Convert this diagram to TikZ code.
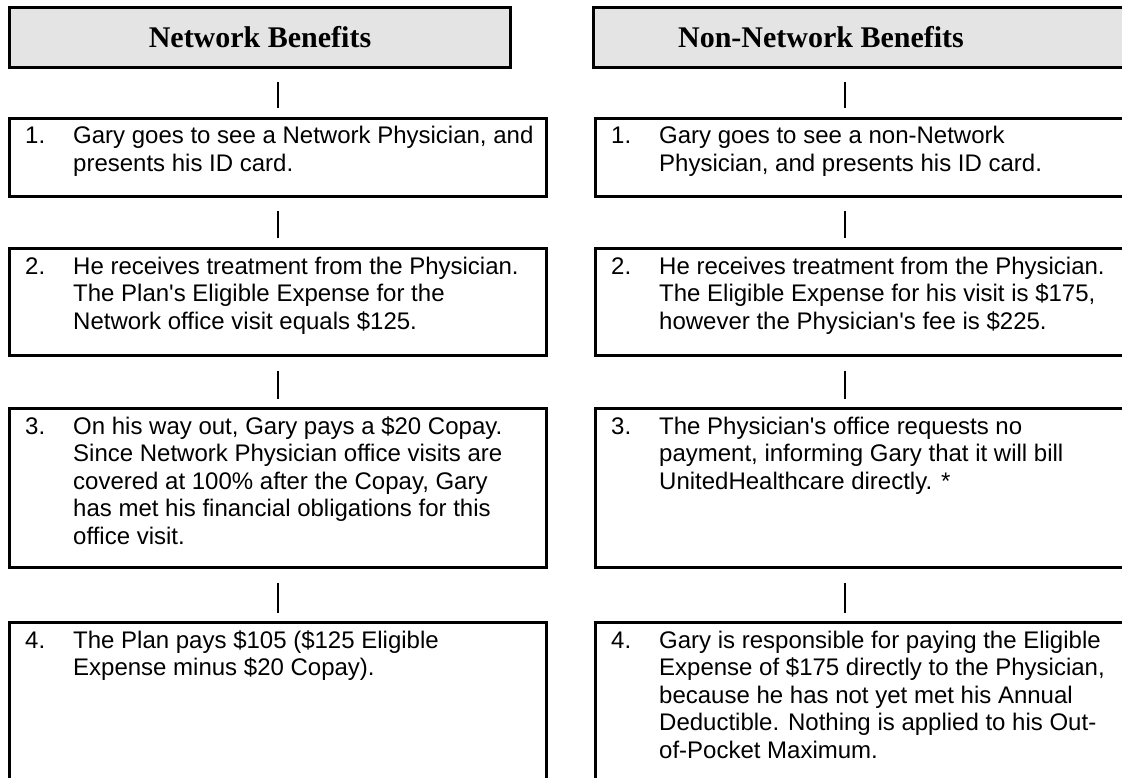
\documentclass[tikz,border=0pt]{standalone}
\usepackage{fontspec}
\setmainfont{Liberation Serif}
\newfontfamily\arialfont{Liberation Sans}
\usetikzlibrary{calc}
\definecolor{hdrgray}{RGB}{228,228,228}
\newcommand\stepno[1]{\makebox[48pt][l]{#1}}
\newcommand\aq{\textquotesingle}
\tikzset{
  hdrbox/.style={draw, fill=hdrgray, line width=3pt, inner sep=0pt, outer sep=0pt, anchor=north west, minimum height=60pt},
  stepbox/.style={draw, line width=3pt, inner sep=0pt, outer sep=0pt, anchor=north west},
  hdrtext/.style={font=\fontsize{30}{34}\selectfont\bfseries, inner sep=0pt},
  steptext/.style={font=\arialfont\fontsize{24}{27.6}\selectfont, inner sep=0pt, anchor=base west},
  link/.style={line width=1.6pt, shorten <=15pt, shorten >=10pt}
}
\begin{document}
\begin{tikzpicture}[x=1pt,y=-1pt]
\useasboundingbox (0,0) rectangle (1122,778);
\clip (0,0) rectangle (1122,778);
\coordinate (aL) at (278,0);
\coordinate (aR) at (845,0);
% headers
\node[hdrbox, minimum width=501pt] (hL) at (9.5,7.5) {};
\node[hdrtext] (hLt) at (260,37.5) {Network Benefits};
\node[hdrbox, minimum width=546.5pt] (hR) at (593.5,7.5) {};
\node[hdrtext] (hRt) at (821,37.5) {Non-Network Benefits};
% left boxes
\node[stepbox, minimum width=537pt, minimum height=78pt] (L1) at (9.5,118.5) {};
\node[stepbox, minimum width=537pt, minimum height=107pt] (L2) at (9.5,248.5) {};
\node[stepbox, minimum width=537pt, minimum height=159pt] (L3) at (9.5,408.5) {};
\node[stepbox, minimum width=537pt, minimum height=177.5pt] (L4) at (9.5,622.5) {};
% right boxes
\node[stepbox, minimum width=544.5pt, minimum height=78pt] (R1) at (595.5,118.5) {};
\node[stepbox, minimum width=544.5pt, minimum height=107pt] (R2) at (595.5,248.5) {};
\node[stepbox, minimum width=544.5pt, minimum height=159pt] (R3) at (595.5,408.5) {};
\node[stepbox, minimum width=544.5pt, minimum height=177.5pt] (R4) at (595.5,622.5) {};
% left texts
\node[steptext] (L1t) at ($(L1.north west)+(15.5,25.5)$) {\begin{tabular}[t]{@{}l@{}l@{}}\stepno{1.}&Gary goes to see a Network Physician, and\\&presents his ID card.\end{tabular}};
\node[steptext] (L2t) at ($(L2.north west)+(15.5,25.5)$) {\begin{tabular}[t]{@{}l@{}l@{}}\stepno{2.}&He receives treatment from the Physician.\\&The Plan\aq s Eligible Expense for the\\&Network office visit equals \$125.\end{tabular}};
\node[steptext] (L3t) at ($(L3.north west)+(15.5,25.5)$) {\begin{tabular}[t]{@{}l@{}l@{}}\stepno{3.}&On his way out, Gary pays a \$20 Copay.\\&Since Network Physician office visits are\\&covered at 100\% after the Copay, Gary\\&has met his financial obligations for this\\&office visit.\end{tabular}};
\node[steptext] (L4t) at ($(L4.north west)+(15.5,25.5)$) {\begin{tabular}[t]{@{}l@{}l@{}}\stepno{4.}&The Plan pays \$105 (\$125 Eligible\\&Expense minus \$20 Copay).\end{tabular}};
% right texts
\node[steptext] (R1t) at ($(R1.north west)+(15.5,25.5)$) {\begin{tabular}[t]{@{}l@{}l@{}}\stepno{1.}&Gary goes to see a non-Network\\&Physician, and presents his ID card.\end{tabular}};
\node[steptext] (R2t) at ($(R2.north west)+(15.5,25.5)$) {\begin{tabular}[t]{@{}l@{}l@{}}\stepno{2.}&He receives treatment from the Physician.\\&The Eligible Expense for his visit is \$175,\\&however the Physician\aq s fee is \$225.\end{tabular}};
\node[steptext] (R3t) at ($(R3.north west)+(15.5,25.5)$) {\begin{tabular}[t]{@{}l@{}l@{}}\stepno{3.}&The Physician\aq s office requests no\\&payment, informing Gary that it will bill\\&UnitedHealthcare directly. *\end{tabular}};
\node[steptext] (R4t) at ($(R4.north west)+(15.5,25.5)$) {\begin{tabular}[t]{@{}l@{}l@{}}\stepno{4.}&Gary is responsible for paying the Eligible\\&Expense of \$175 directly to the Physician,\\&because he has not yet met his Annual\\&Deductible. Nothing is applied to his Out-\\&of-Pocket Maximum.\end{tabular}};
% connectors
\draw[link] (hL.south -| aL) -- (L1.north -| aL);
\draw[link] (L1.south -| aL) -- (L2.north -| aL);
\draw[link] (L2.south -| aL) -- (L3.north -| aL);
\draw[link] (L3.south -| aL) -- (L4.north -| aL);
\draw[link] (hR.south -| aR) -- (R1.north -| aR);
\draw[link] (R1.south -| aR) -- (R2.north -| aR);
\draw[link] (R2.south -| aR) -- (R3.north -| aR);
\draw[link] (R3.south -| aR) -- (R4.north -| aR);
\end{tikzpicture}
\end{document}
